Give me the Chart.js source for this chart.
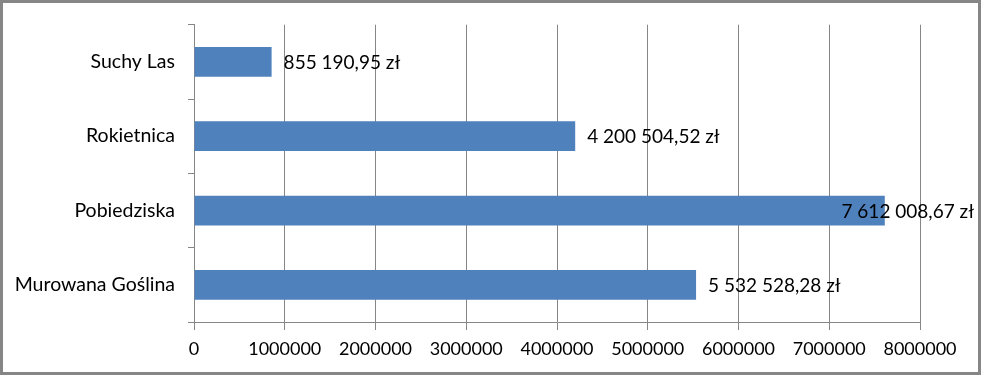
<!DOCTYPE html>
<html>
<head>
<meta charset="utf-8">
<script src="https://cdn.jsdelivr.net/npm/chart.js@4/dist/chart.umd.min.js"></script>
<style>
  html, body { margin: 0; padding: 0; background: #ffffff; }
  #c { display: block; }
</style>
</head>
<body>
<canvas id="c" width="989" height="382"></canvas>
<script>
const categories = ['Suchy Las', 'Rokietnica', 'Pobiedziska', 'Murowana Goślina'];
const values = [855190.95, 4200504.52, 7612008.67, 5532528.28];
const axisMin = 0;
const axisMax = 8000000;
const axisStep = 1000000;

const FONT = 'Lato, "Open Sans", sans-serif';
const GRAY = '#868686';

function formatPLN(v) {
  const parts = v.toFixed(2).split('.');
  const intPart = parts[0].replace(/\B(?=(\d{3})+(?!\d))/g, ' ');
  return intPart + ',' + parts[1] + ' zł';
}

const frame = {
  id: 'frame',
  beforeDraw(chart) {
    const ctx = chart.ctx;
    ctx.save();
    ctx.fillStyle = '#ffffff';
    ctx.fillRect(0, 0, chart.width, chart.height);
    ctx.strokeStyle = GRAY;
    ctx.lineWidth = 3;
    ctx.strokeRect(1.5, 1.5, 978, 372);
    ctx.restore();
  }
};

const dataLabels = {
  id: 'dataLabels',
  afterDatasetsDraw(chart) {
    const ctx = chart.ctx;
    const meta = chart.getDatasetMeta(0);
    ctx.save();
    ctx.font = '19px ' + FONT;
    ctx.fillStyle = '#000000';
    ctx.textAlign = 'left';
    ctx.textBaseline = 'middle';
    const limit = 974;
    meta.data.forEach((bar, i) => {
      const txt = formatPLN(values[i]);
      const w = ctx.measureText(txt).width;
      let x = bar.x + 12;
      if (x + w > limit) x = limit - w;
      ctx.fillText(txt, x, bar.y + 1);
    });
    ctx.restore();
  }
};

new Chart(document.getElementById('c'), {
  type: 'bar',
  data: {
    labels: categories,
    datasets: [{
      data: values,
      backgroundColor: '#4F81BD',
      borderWidth: 0,
      barPercentage: 0.4,
      categoryPercentage: 1.0
    }]
  },
  options: {
    indexAxis: 'y',
    responsive: false,
    animation: false,
    layout: { padding: { top: 23, right: 69, left: 0, bottom: 0 } },
    plugins: {
      legend: { display: false },
      tooltip: { enabled: false }
    },
    scales: {
      x: {
        min: axisMin,
        max: axisMax,
        ticks: {
          stepSize: axisStep,
          color: '#000000',
          font: { family: FONT, size: 18 },
          padding: 8,
          maxRotation: 0,
          callback: (v) => String(v)
        },
        grid: { color: GRAY, lineWidth: 1, tickLength: 8, drawTicks: true },
        border: { display: true, color: GRAY, width: 1 },
        afterFit(scale) { scale.height = 60; }
      },
      y: {
        ticks: {
          color: '#000000',
          font: { family: FONT, size: 19.5 },
          padding: 13
        },
        grid: { drawOnChartArea: false, offset: true, color: GRAY, tickLength: 6 },
        border: { display: true, color: GRAY, width: 1 },
        afterFit(scale) { scale.width = 194; }
      }
    }
  },
  plugins: [frame, dataLabels]
});
</script>
</body>
</html>
